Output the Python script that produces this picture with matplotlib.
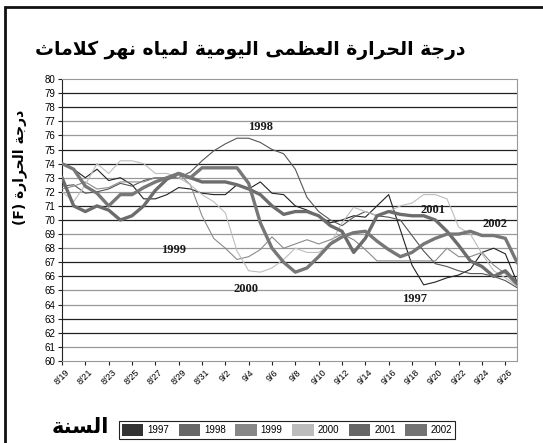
import numpy as np
import matplotlib
matplotlib.use('Agg')
import matplotlib.pyplot as plt
from matplotlib.patches import Patch, Rectangle

# arabic shaping (matplotlib has no complex text layout): logical -> visual presentation forms
FORMS = {
    'ا': ('\uFE8D', '\uFE8E', None, None),
    'د': ('\uFEA9', '\uFEAA', None, None),
    'ر': ('\uFEAD', '\uFEAE', None, None),
    'و': ('\uFEED', '\uFEEE', None, None),
    'ة': ('\uFE93', '\uFE94', None, None),
    'ى': ('\uFEEF', '\uFEF0', None, None),
    'ج': ('\uFE9D', '\uFE9E', '\uFE9F', '\uFEA0'),
    'ح': ('\uFEA1', '\uFEA2', '\uFEA3', '\uFEA4'),
    'ث': ('\uFE99', '\uFE9A', '\uFE9B', '\uFE9C'),
    'س': ('\uFEB1', '\uFEB2', '\uFEB3', '\uFEB4'),
    'ظ': ('\uFEC5', '\uFEC6', '\uFEC7', '\uFEC8'),
    'ع': ('\uFEC9', '\uFECA', '\uFECB', '\uFECC'),
    'ك': ('\uFED9', '\uFEDA', '\uFEDB', '\uFEDC'),
    'ل': ('\uFEDD', '\uFEDE', '\uFEDF', '\uFEE0'),
    'م': ('\uFEE1', '\uFEE2', '\uFEE3', '\uFEE4'),
    'ن': ('\uFEE5', '\uFEE6', '\uFEE7', '\uFEE8'),
    'ه': ('\uFEE9', '\uFEEA', '\uFEEB', '\uFEEC'),
    'ي': ('\uFEF1', '\uFEF2', '\uFEF3', '\uFEF4'),
}


def dual(c):
    return c in FORMS and FORMS[c][2] is not None


def shape(text):
    res = []
    i = 0
    n = len(text)
    while i < n:
        c = text[i]
        if c not in FORMS:
            res.append(c)
            i += 1
            continue
        join_prev = i > 0 and dual(text[i - 1])
        if c == 'ل' and i + 1 < n and text[i + 1] == 'ا':
            res.append('\uFEFC' if join_prev else '\uFEFB')
            i += 2
            continue
        join_next = dual(c) and i + 1 < n and text[i + 1] in FORMS
        iso, fin, ini, med = FORMS[c]
        if join_prev and join_next:
            res.append(med)
        elif join_prev:
            res.append(fin)
        elif join_next:
            res.append(ini)
        else:
            res.append(iso)
        i += 1
    return ''.join(reversed(res))


title = 'درجة الحرارة العظمى اليومية لمياه نهر كلاماث'
ylab = 'درجة الحرارة'
xlab = 'السنة'

dates = ['8/19', '8/20', '8/21', '8/22', '8/23', '8/24', '8/25', '8/26', '8/27', '8/28',
         '8/29', '8/30', '8/31', '9/1', '9/2', '9/3', '9/4', '9/5', '9/6', '9/7',
         '9/8', '9/9', '9/10', '9/11', '9/12', '9/13', '9/14', '9/15', '9/16', '9/17',
         '9/18', '9/19', '9/20', '9/21', '9/22', '9/23', '9/24', '9/25', '9/26', '9/27']

y1997 = [74.0, 73.6, 73.0, 73.6, 72.8, 73.0, 72.5, 71.5, 71.5, 71.8,
         72.3, 72.2, 71.9, 71.8, 71.8, 72.5, 72.2, 72.7, 71.9, 71.8,
         71.0, 70.7, 70.3, 69.8, 70.0, 70.3, 70.2, 71.0, 71.8, 69.3,
         66.8, 65.4, 65.6, 65.9, 66.1, 66.5, 67.7, 68.0, 67.6, 65.6]
y1998 = [72.4, 72.5, 71.9, 72.0, 72.2, 72.6, 72.4, 72.8, 73.0, 73.0,
         73.0, 73.4, 74.2, 74.9, 75.4, 75.8, 75.8, 75.5, 75.0, 74.7,
         73.6, 71.6, 70.6, 70.0, 69.6, 70.2, 70.6, 70.3, 70.2, 70.0,
         68.9, 67.8, 66.9, 66.7, 66.4, 66.2, 66.2, 66.0, 65.7, 65.2]
y1999 = [72.2, 72.4, 72.7, 72.2, 72.3, 72.7, 72.7, 72.7, 73.0, 73.0,
         73.3, 72.5, 70.3, 68.7, 68.0, 67.2, 67.4, 67.9, 68.8, 68.0,
         68.3, 68.6, 68.3, 68.6, 69.0, 68.6, 67.9, 67.1, 67.1, 67.1,
         67.1, 67.1, 67.1, 68.0, 67.4, 67.4, 67.7, 66.8, 66.2, 65.3]
y2000 = [72.0, 71.3, 72.5, 74.0, 73.3, 74.2, 74.2, 74.0, 73.3, 73.3,
         73.0, 72.5, 71.8, 71.3, 70.5, 67.8, 66.4, 66.3, 66.6, 67.2,
         68.0, 67.7, 67.7, 68.3, 69.8, 70.9, 70.6, 70.3, 70.6, 71.0,
         71.2, 71.8, 71.8, 71.5, 69.5, 69.0, 67.6, 66.4, 65.9, 65.3]
y2001 = [73.0, 71.0, 70.6, 71.0, 70.7, 70.0, 70.3, 71.0, 72.1, 72.9,
         73.3, 73.0, 72.7, 72.7, 72.7, 72.5, 72.2, 71.8, 71.0, 70.4,
         70.6, 70.6, 70.3, 69.6, 69.2, 67.7, 68.7, 70.3, 70.6, 70.4,
         70.3, 70.3, 70.0, 69.2, 68.2, 67.1, 66.7, 66.0, 66.4, 65.5]
y2002 = [74.0, 73.6, 72.4, 71.9, 71.0, 71.8, 71.8, 72.3, 72.7, 73.0,
         73.3, 73.0, 73.7, 73.7, 73.7, 73.7, 72.6, 69.8, 68.0, 67.0,
         66.3, 66.6, 67.4, 68.3, 68.8, 69.1, 69.2, 68.5, 67.9, 67.4,
         67.7, 68.3, 68.7, 69.0, 69.0, 69.2, 68.9, 68.9, 68.7, 67.0]

years = ['1997', '1998', '1999', '2000', '2001', '2002']
series = [y1997, y1998, y1999, y2000, y2001, y2002]
colors = ['#222222', '#555555', '#8a8a8a', '#bdbdbd', '#6c6c6c', '#777777']
widths = [0.8, 0.8, 0.8, 0.8, 2.4, 2.4]
legend_colors = ['#333333', '#676767', '#878787', '#bcbcbc', '#666666', '#737373']

# label positions (day index, value)
year_labels = {'1998': (17.0, 76.6), '1999': (9.6, 67.9), '2000': (15.8, 65.1),
               '2001': (31.8, 70.7), '2002': (37.1, 69.7), '1997': (30.2, 64.4)}

fig = plt.figure(figsize=(5.43, 4.43), dpi=100)
ax = fig.add_axes([62 / 543, 1 - 361 / 443, (517 - 62) / 543, (361 - 79) / 443])

x = np.arange(len(dates))
for v in range(61, 80):
    dark = ((80 - v - 1) // 2) % 2 == 0
    ax.axhline(v, color='#222222' if dark else '#999999', lw=0.9, zorder=1)

for ys, c, w in zip(series, colors, widths):
    ax.plot(x, ys, color=c, lw=w, zorder=3)

for name, (dx, dy) in year_labels.items():
    ax.text(dx, dy, name, ha='center', va='center', fontsize=9, fontweight='bold',
            family='Liberation Serif', color='#1a1a1a', zorder=5)

ax.set_xlim(0, len(dates) - 1)
ax.set_ylim(60, 80)
ax.set_yticks(range(60, 81))
ax.set_xticks(x[::2])
ax.set_xticklabels(dates[::2], rotation=45, fontsize=6.5, family='Liberation Sans')
for lab in ax.get_yticklabels():
    lab.set_family('Liberation Sans')
    lab.set_fontsize(7)
ax.tick_params(axis='both', length=3, width=0.8, color='#222222', pad=2)
ax.spines['left'].set_color('#222222')
for s in ['top', 'right', 'bottom']:
    ax.spines[s].set_color('#999999')

fig.text(250 / 543, 1 - 50 / 443, shape(title), ha='center', va='center',
         fontsize=13.5, fontweight='bold', family='DejaVu Sans')
fig.text(20 / 543, 1 - 167 / 443, '(F) ' + shape(ylab), rotation=90, ha='center',
         va='center', fontsize=10, fontweight='bold', family='DejaVu Sans')
fig.text(80 / 543, 1 - 427 / 443, shape(xlab), ha='center', va='center',
         fontsize=15, fontweight='bold', family='DejaVu Sans')

handles = [Patch(facecolor=c, edgecolor='none') for c in legend_colors]
leg = fig.legend(handles, years, ncol=6, loc='center', bbox_to_anchor=(287 / 543, 1 - 430 / 443),
                 prop={'family': 'Liberation Sans', 'size': 7}, handlelength=2.2,
                 handleheight=1.4, handletextpad=0.4, columnspacing=1.0, borderpad=0.3,
                 fancybox=False, edgecolor='#222222', framealpha=1)
leg.get_frame().set_linewidth(0.8)

# outer frame of the scanned chart
fig.add_artist(Rectangle((5 / 543, -0.1), 1.2, 1.1 - 7 / 443, transform=fig.transFigure,
                         fill=False, edgecolor='#111111', lw=2))

fig.savefig('out.png', dpi=100)
